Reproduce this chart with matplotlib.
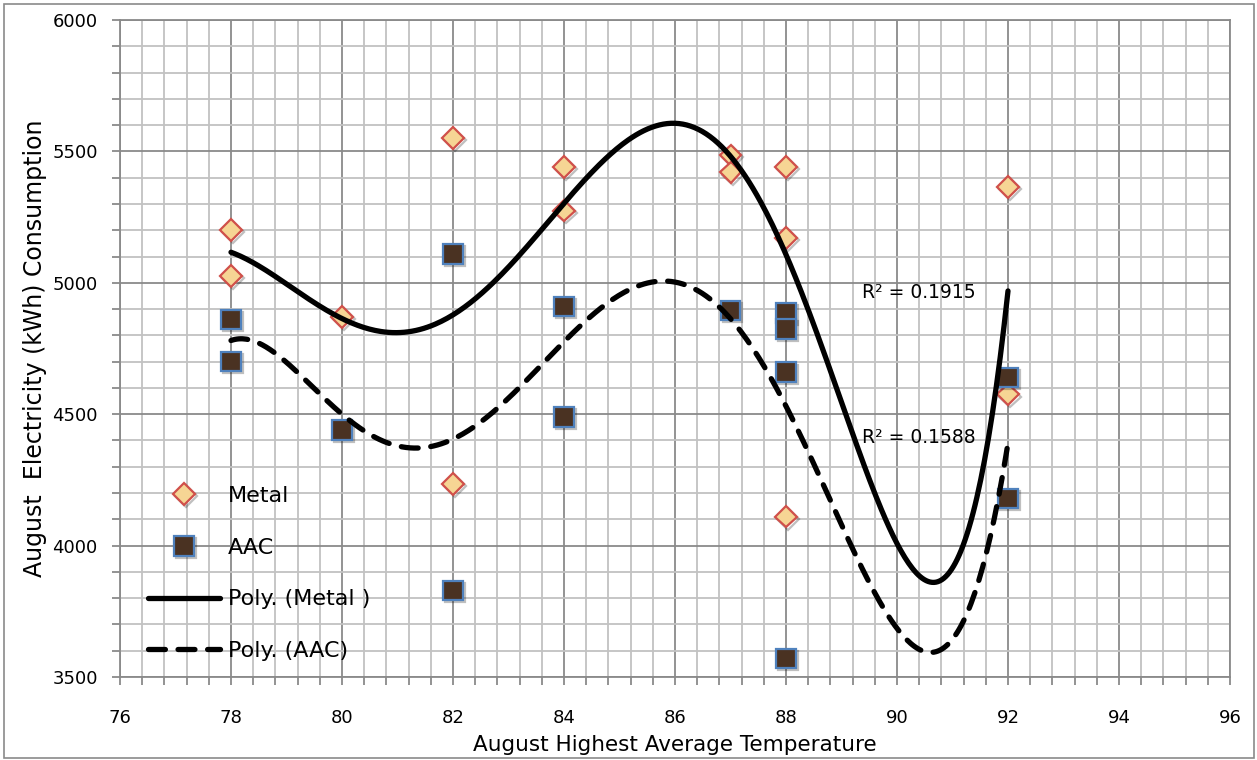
import numpy as np
import matplotlib
matplotlib.use("Agg")
import matplotlib.pyplot as plt
import matplotlib.patheffects as pe
from matplotlib.patches import Rectangle
from matplotlib.ticker import MultipleLocator

plt.rcParams['font.family'] = ['DejaVu Sans']

# scatter points
metal_x = [78, 78, 80, 82, 82, 84, 84, 87, 87, 88, 88, 88, 92, 92]
metal_y = [5200, 5025, 4870, 5550, 4235, 5440, 5275, 5485, 5420, 5440, 5170, 4110, 5365, 4575]
aac_x = [78, 78, 80, 82, 82, 84, 84, 87, 88, 88, 88, 88, 92, 92]
aac_y = [4860, 4700, 4440, 5110, 3830, 4910, 4490, 4895, 4885, 4825, 4660, 3570, 4640, 4180]

# Excel poly trendlines
trend_x = [78, 79, 80, 81, 82, 83, 84, 85, 86, 87, 88, 89, 89.5, 90, 90.3, 90.6, 91, 91.5, 92]
metal_trend = [5115, 5011, 4849, 4815, 4885, 5037, 5303, 5544, 5632, 5456, 5062,
               4527, 4274, 4042, 3920, 3855, 3909, 4289, 4971]
aac_trend = [4781, 4696, 4487, 4392, 4411, 4555, 4796, 4935, 4977, 4860, 4528,
             4175, 3964, 3696, 3610, 3575, 3669, 4008, 4365]
r2_metal = "R\u00b2 = 0.1915"
r2_aac = "R\u00b2 = 0.1588"

fig = plt.figure(figsize=(12.57, 7.6), dpi=100)
ax = fig.add_axes([120/1257, 1-677/760, 1110/1257, 657/760])

# smooth the trendlines with a 6th order polynomial through the readings,
# leaning a bit harder on the readings around the sharp dip
w = np.ones(len(trend_x))
w[[0, 14, 15, 16, 18]] = [2, 4, 5, 4, 2]
p_metal = np.polynomial.Polynomial.fit(trend_x, metal_trend, 6, w=w)
p_aac = np.polynomial.Polynomial.fit(trend_x, aac_trend, 6, w=w)
xx = np.linspace(trend_x[0], trend_x[-1], 400)

shadow = [pe.SimpleLineShadow(offset=(1.5, -1.5), shadow_color='k', alpha=0.25), pe.Normal()]
ax.plot(metal_x, metal_y, 'D', ms=11, mfc='#f6d594', mec='#d0504a', mew=1.6,
        ls='none', label='Metal', zorder=3, path_effects=shadow)
ax.plot(aac_x, aac_y, 's', ms=14, mfc='#4a3222', mec='#4f81bd', mew=1.6,
        ls='none', label='AAC', zorder=3, path_effects=shadow)
ax.plot(xx, p_metal(xx), color='black', lw=3.8, solid_capstyle='round',
        label='Poly. (Metal )', zorder=4)
ax.plot(xx, p_aac(xx), color='black', lw=3.8, ls=(0, (3.2, 2.4)),
        dash_capstyle='round', label='Poly. (AAC)', zorder=4)

ax.text(89.37, 4962, r2_metal, fontsize=13.5, va='center', ha='left', zorder=5)
ax.text(89.37, 4411, r2_aac, fontsize=13.5, va='center', ha='left', zorder=5)

ax.set_xlim(76, 96)
ax.set_ylim(3500, 6000)
ax.xaxis.set_major_locator(MultipleLocator(2))
ax.xaxis.set_minor_locator(MultipleLocator(0.4))
ax.yaxis.set_major_locator(MultipleLocator(500))
ax.yaxis.set_minor_locator(MultipleLocator(100))
ax.grid(which='minor', color='#c2c2c2', lw=1.3, zorder=0)
ax.grid(which='major', color='#8a8a8a', lw=1.3, zorder=1)
ax.set_axisbelow(True)
ax.tick_params(which='both', direction='out', length=6, width=1.3, color='#8a8a8a',
               labelsize=13)
ax.tick_params(axis='x', pad=17)
ax.tick_params(axis='y', pad=10)
for s in ax.spines.values():
    s.set_color('#8a8a8a')
    s.set_linewidth(1.3)

ax.set_xlabel('August Highest Average Temperature', fontsize=15.5, labelpad=6)
ax.set_ylabel('August  Electricity (kWh) Consumption', fontsize=17, labelpad=4)

ax.legend(loc='upper left', bbox_to_anchor=(0.025, 0.291), frameon=False,
          fontsize=16, handlelength=3.25, labelspacing=1.43, handletextpad=0.35,
          borderpad=0, borderaxespad=0)

fig.add_artist(Rectangle((4/1257, 0.002), 1250/1257, 1-6/760, transform=fig.transFigure,
                         fill=False, ec='#8a8a8a', lw=1.2))

fig.savefig('out.png', dpi=100)
